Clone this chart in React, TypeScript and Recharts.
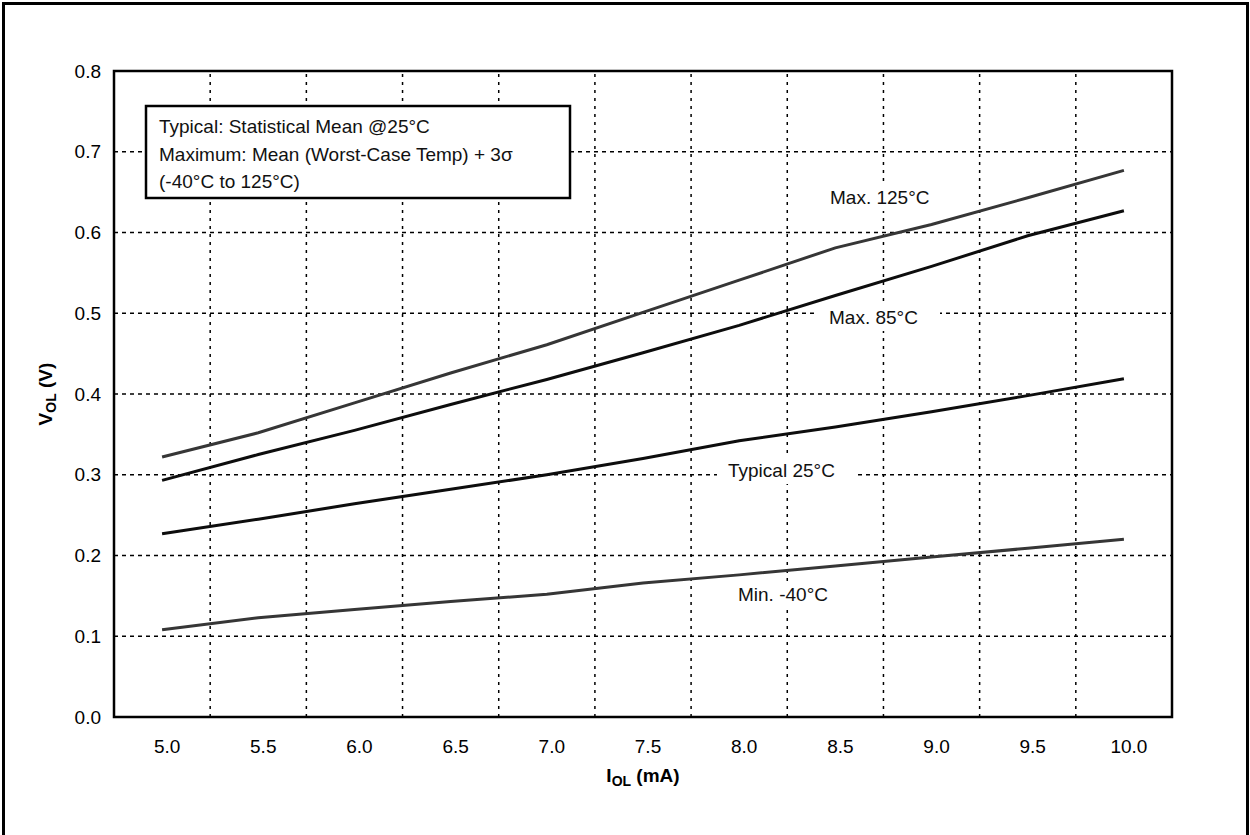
import { LineChart, Line, XAxis, YAxis, CartesianGrid, ReferenceLine, ReferenceArea } from 'recharts';

// IOL (mA) sample points
const iol = [5.0, 5.5, 6.0, 6.5, 7.0, 7.5, 8.0, 8.5, 9.0, 9.5, 10.0];

// VOL (V) per curve
const max125 = [0.322, 0.352, 0.389, 0.426, 0.461, 0.501, 0.541, 0.581, 0.61, 0.643, 0.677];
const max85 = [0.293, 0.325, 0.355, 0.387, 0.418, 0.451, 0.485, 0.522, 0.558, 0.596, 0.627];
const typical25 = [0.227, 0.245, 0.264, 0.282, 0.3, 0.32, 0.342, 0.359, 0.378, 0.398, 0.419];
const minMinus40 = [0.108, 0.123, 0.133, 0.143, 0.152, 0.166, 0.176, 0.187, 0.198, 0.209, 0.22];

const yTicks = [0, 0.1, 0.2, 0.3, 0.4, 0.5, 0.6, 0.7, 0.8];
// vertical grid sits between the categories
const gridX = [5.25, 5.75, 6.25, 6.75, 7.25, 7.75, 8.25, 8.75, 9.25, 9.75];

const data = iol.map((x, i) => ({
  x,
  max125: max125[i],
  max85: max85[i],
  typical25: typical25[i],
  min40: minMinus40[i],
}));

const FONT = '"Liberation Sans", Arial, sans-serif';
const FS = 19;

// rotated y-axis title with subscript
const YTitle = () => (
  <text
    transform="translate(52, 394) rotate(-90)"
    textAnchor="middle"
    fontFamily={FONT}
    fontWeight="bold"
    fontSize={FS}
    fill="#000"
  >
    V<tspan fontSize={14} dy={4}>OL</tspan>
    <tspan dy={-4}> (V)</tspan>
  </text>
);

const XTitle = () => (
  <text x={643} y={782} textAnchor="middle" fontFamily={FONT} fontWeight="bold" fontSize={FS} fill="#000">
    I<tspan fontSize={14} dy={4}>OL</tspan>
    <tspan dy={-4}> (mA)</tspan>
  </text>
);

// curve tag with white backing, like the text boxes in the original
const Tag = ({ x, y, w, text }: { x: number; y: number; w: number; text: string }) => (
  <g>
    <rect x={x - 11} y={y - 19} width={w + 22} height={26} fill="#fff" />
    <text x={x} y={y} fontFamily={FONT} fontSize={FS} fill="#111">
      {text}
    </text>
  </g>
);

export default function App() {
  return (
    <div style={{ position: 'absolute', left: 0, top: 0, width: 1250, height: 835, background: '#fff', overflow: 'hidden' }}>
      <LineChart
        width={1250}
        height={835}
        data={data}
        margin={{ top: 71, right: 78, left: 0, bottom: 0 }}
      >
        <CartesianGrid vertical={false} stroke="#000" strokeWidth={1.5} strokeDasharray="4 4" />
        {gridX.map((v) => (
          <ReferenceLine key={v} x={v} stroke="#000" strokeWidth={1.5} strokeDasharray="3 5" />
        ))}
        <XAxis
          dataKey="x"
          type="number"
          domain={[4.75, 10.25]}
          ticks={iol}
          tickFormatter={(v: number) => v.toFixed(1)}
          axisLine={false}
          tickLine={false}
          tickSize={0}
          tickMargin={23}
          height={118}
          tick={{ fill: '#000', fontSize: FS, fontFamily: FONT, dx: 5 }}
          interval={0}
        />
        <YAxis
          type="number"
          domain={[0, 0.8]}
          ticks={yTicks}
          tickFormatter={(v: number) => v.toFixed(1)}
          axisLine={false}
          tickLine={false}
          tickSize={0}
          tickMargin={13}
          width={114}
          tick={{ fill: '#000', fontSize: FS, fontFamily: FONT }}
          interval={0}
        />
        <ReferenceArea x1={4.75} x2={10.25} y1={0} y2={0.8} fill="none" stroke="#000" strokeWidth={2.5} ifOverflow="visible" />
        <Line dataKey="max125" stroke="#363636" strokeWidth={3} dot={false} isAnimationActive={false} />
        <Line dataKey="max85" stroke="#0d0d0d" strokeWidth={3} dot={false} isAnimationActive={false} />
        <Line dataKey="typical25" stroke="#0d0d0d" strokeWidth={3} dot={false} isAnimationActive={false} />
        <Line dataKey="min40" stroke="#363636" strokeWidth={3} dot={false} isAnimationActive={false} />
      </LineChart>

      <svg width={1250} height={835} style={{ position: 'absolute', left: 0, top: 0, pointerEvents: 'none' }}>
        <rect x={3.5} y={3.5} width={1244} height={840} fill="none" stroke="#000" strokeWidth={3} />
        <YTitle />
        <XTitle />

        {/* note box */}
        <rect x={146} y={106} width={424} height={92} fill="#fff" stroke="#000" strokeWidth={2.5} />
        <text fontFamily={FONT} fontSize={FS} fill="#111">
          <tspan x={159} y={133}>Typical: Statistical Mean @25°C</tspan>
          <tspan x={159} y={161}>Maximum: Mean (Worst-Case Temp) + 3σ</tspan>
          <tspan x={159} y={188}>(-40°C to 125°C)</tspan>
        </text>

        <Tag x={830} y={204} w={110} text="Max. 125°C" />
        <Tag x={829} y={324} w={100} text="Max. 85°C" />
        <Tag x={728} y={477} w={117} text="Typical 25°C" />
        <Tag x={738} y={601} w={100} text="Min. -40°C" />
      </svg>
    </div>
  );
}
